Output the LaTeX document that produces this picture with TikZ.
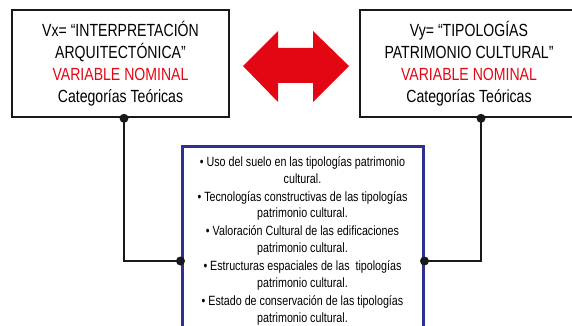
\documentclass[tikz,border=0pt]{standalone}
\usepackage{fontspec}
\setmainfont{Liberation Sans}[FakeStretch=0.8]
\usetikzlibrary{positioning}
\definecolor{varred}{HTML}{E30613}
\definecolor{catblue}{HTML}{2E3192}
\tikzset{
  varbox/.style={draw=black!90,line width=2.6pt,minimum width=217pt,minimum height=107pt,align=center,inner sep=0pt,font=\fontsize{17.6}{22}\selectfont},
  catbox/.style={draw=catblue,line width=3pt,minimum width=241pt,inner xsep=7pt,inner ysep=10pt,align=center,font=\fontsize{13.4}{16.8}\selectfont},
  link/.style={black!90,line width=2.6pt},
  joint/.style={fill=black!90},
}
\begin{document}
\begin{tikzpicture}[x=1pt,y=-1pt]
        \useasboundingbox (0,0) rectangle (572,326);
        \clip (0,0) rectangle (572,326);
        %VARIABLES
        \node[varbox] (vx) at (120.5,63.5) {Vx= “INTERPRETACIÓN\\ARQUITECTÓNICA”\\\textcolor{varred}{VARIABLE NOMINAL}\\Categorías Teóricas};
        \node[varbox,minimum width=218pt] (vy) at (469,63.5) {Vy= “TIPOLOGÍAS\\PATRIMONIO CULTURAL”\\\textcolor{varred}{VARIABLE NOMINAL}\\Categorías Teóricas};
        %DOUBLE ARROW
        \fill[varred] (243,66) -- (278,31) -- (278,48) -- (313,48) -- (313,31) -- (349,66) -- (313,102) -- (313,83) -- (278,83) -- (278,102) -- cycle;
        %CATEGORIES
        \node[catbox,anchor=north] (cat) at (302.5,145) {%
          • Uso del suelo en las tipologías patrimonio\\cultural.\\[1.2pt]
          • Tecnologías constructivas de las tipologías\\patrimonio cultural.\\[1.2pt]
          • Valoración Cultural de las edificaciones\\patrimonio cultural.\\[1.2pt]
          • Estructuras espaciales de las\ \ tipologías\\patrimonio cultural.\\[1.2pt]
          • Estado de conservación de las tipologías\\patrimonio cultural.};
        %LINKS
        \coordinate (jx) at (vx.south -| 124,0);
        \coordinate (jy) at (vy.south -| 481,0);
        \coordinate (cx) at (cat.west |- 0,261);
        \coordinate (cy) at (cat.east |- 0,261);
        \draw[link] (jx) |- (cx);
        \draw[link] (jy) |- (cy);
        \foreach \p in {jx,jy,cx,cy} \fill[joint] (\p) circle (4.5pt);
\end{tikzpicture}
\end{document}
